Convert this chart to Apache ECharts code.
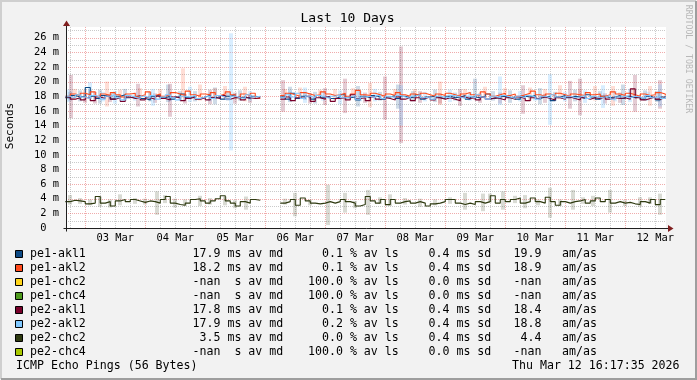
<!DOCTYPE html>
<html><head><meta charset="utf-8">
<script src="https://cdn.jsdelivr.net/npm/echarts@6/dist/echarts.min.js"></script>
<style>html,body{margin:0;padding:0;background:#f2f2f2}#c{width:697px;height:380px}</style>
</head><body><div id="c"></div>
<script>
// ---- time grid (hours since 03 Mar 00:00), 2 h steps ----
const hours = [-8,-6,-4,-2,
0,2,4,6,8,10,12,14,16,18,20,22,
24,26,28,30,32,34,36,38,40,42,44,46,
48,50,52,54,56,58,60,62,64,66,68,70,
72,74,76,78,80,82,84,86,88,90,92,94,
96,98,100,102,104,106,108,110,112,114,116,118,
120,122,124,126,128,130,132,134,136,138,140,142,
144,146,148,150,152,154,156,158,160,162,164,166,
168,170,172,174,176,178,180,182,184,186,188,190,
192,194,196,198,200,202,204,206,208,210,212,214,
216,218,220,222,224,226,228,230,232];

// ---- series values (milliseconds) ----
const pe1_akl1 = [17.8,18.1,17.9,18.0,
19.2,18.0,17.7,18.1,17.9,17.6,18.0,18.2,17.8,17.9,18.1,17.7,
17.5,18.0,18.2,17.8,18.0,17.6,17.9,18.3,17.8,18.0,17.7,17.9,
18.1,17.8,17.9,17.6,18.0,18.2,17.8,17.9,17.7,18.0,17.9,null,
null,null,null,17.9,17.6,18.4,17.7,18.0,17.9,17.6,18.1,17.8,
18.0,17.7,17.9,18.2,17.8,17.9,17.5,18.0,17.8,18.1,17.9,17.6,
17.9,18.1,17.7,18.0,17.8,17.9,18.2,17.6,17.9,18.0,17.8,17.7,
18.0,17.8,17.9,18.1,17.6,17.9,17.8,18.0,18.3,17.7,17.9,18.0,
17.8,17.9,17.6,18.0,17.9,18.1,17.7,17.9,18.0,17.4,17.9,18.1,
17.8,18.0,17.9,17.7,18.2,17.9,17.6,18.0,17.8,17.9,18.1,17.7,
18.0,17.8,17.9,17.6,18.0,17.8,17.5,17.9,18.0];
const pe1_akl2 = [18.0,18.3,18.1,18.4,
18.2,18.6,18.0,18.3,18.1,18.5,18.2,17.9,18.3,18.4,18.0,18.2,
18.6,18.1,18.3,18.0,18.2,18.5,18.3,18.1,18.7,18.2,18.0,18.3,
18.2,18.5,18.1,18.3,18.6,18.2,17.8,18.3,18.1,18.4,17.7,null,
null,null,null,18.1,18.4,18.2,18.0,18.5,18.3,18.1,18.2,18.6,
18.3,18.1,18.2,18.4,18.0,18.3,18.8,18.2,18.1,18.4,18.2,18.0,
18.3,18.1,18.5,18.2,18.0,18.3,18.1,18.4,18.2,18.0,18.3,18.1,
18.4,18.2,18.0,18.3,18.5,18.2,18.1,18.6,18.3,18.0,18.2,18.4,
18.1,18.3,18.0,18.2,18.4,18.7,18.2,18.0,18.3,18.1,18.4,18.2,
18.0,18.3,18.2,18.1,18.5,18.2,18.3,18.0,18.2,18.6,18.3,18.1,
18.4,18.2,18.0,18.3,18.1,18.2,18.5,18.3,18.1];
const pe2_akl1 = [17.9,17.6,17.8,17.5,
17.8,17.4,17.9,17.7,18.0,17.6,17.8,17.3,17.9,17.7,17.8,17.5,
17.8,17.6,18.0,17.7,17.5,17.9,17.8,17.4,17.7,17.9,17.6,17.8,
17.5,17.8,17.7,18.1,17.6,17.8,17.9,17.5,17.8,17.7,17.8,null,
null,null,null,17.6,17.9,17.4,17.8,17.7,18.0,17.3,17.8,17.6,
17.9,17.3,17.7,17.8,17.5,18.2,17.7,17.8,17.4,17.9,17.6,17.8,
17.7,17.5,17.9,17.6,17.8,17.4,17.8,17.7,17.9,17.5,17.8,17.6,
17.8,17.6,17.4,17.9,17.7,17.8,17.5,17.9,17.6,17.8,17.7,17.5,
17.8,17.6,17.9,17.7,17.4,17.8,17.6,17.9,17.7,17.5,17.8,17.6,
17.9,17.7,17.5,17.8,17.6,17.8,17.7,17.9,17.6,17.8,17.7,17.8,
17.6,19.0,17.8,17.5,17.7,17.9,17.6,17.8,17.7];
const pe2_akl2 = [18.0,17.8,18.2,17.9,
17.7,18.1,17.9,17.6,18.0,18.2,17.8,17.5,18.1,17.9,17.7,18.0,
17.8,18.1,17.6,17.9,18.2,17.8,17.5,18.0,17.9,18.1,17.7,17.9,
18.0,17.7,18.1,17.9,17.6,18.0,17.8,17.7,18.2,17.9,18.0,null,
null,null,null,17.8,18.2,17.9,18.4,17.7,18.0,17.8,18.1,17.9,
17.7,18.0,18.2,17.8,17.9,18.1,17.6,17.9,18.0,17.8,18.1,17.7,
18.0,17.8,18.1,17.9,17.7,18.0,18.2,17.8,17.9,17.6,18.0,17.9,
17.8,18.1,17.9,17.7,18.0,17.8,18.2,17.9,17.6,18.0,17.8,18.1,
17.9,17.7,18.0,17.8,18.1,17.9,17.6,18.0,17.8,18.2,17.9,17.7,
18.0,17.8,17.9,18.1,17.7,18.0,17.8,17.9,18.1,17.6,17.9,18.0,
17.8,18.0,17.9,17.7,18.1,17.8,18.0,17.7,17.9];
const pe2_chc2 = [3.6,3.8,3.7,3.6,
3.3,3.4,4.3,3.4,3.6,3.0,3.7,3.9,3.6,3.9,3.7,3.5,
3.7,3.6,3.4,3.9,4.3,3.4,3.2,3.1,3.4,3.9,4.0,3.7,
3.4,3.7,4.0,4.4,3.7,3.4,3.0,3.6,3.4,3.9,3.8,null,
null,null,null,3.4,3.6,3.9,3.1,4.1,3.7,3.4,3.3,3.4,
3.6,3.4,3.6,3.9,3.6,3.4,3.0,3.2,4.3,3.7,3.4,3.9,
3.2,3.9,3.4,3.6,3.7,3.4,3.6,3.4,3.0,3.3,3.4,3.6,
3.9,3.9,3.4,3.2,3.4,3.2,3.6,3.4,3.6,4.4,3.4,3.9,
3.6,3.9,4.1,3.4,3.6,4.1,3.6,3.4,4.2,3.6,3.1,3.6,
3.4,3.6,3.7,3.9,3.4,3.7,4.1,3.6,3.9,3.4,3.6,3.4,
3.5,3.3,3.2,3.6,3.4,3.9,3.2,3.9,3.9];

// ---- min/max spread bars: [hour, low, high] ----
const band_pe1_akl1 = [[-6,17.4,18.6],[-2,17.3,18.8],[2,17.6,18.9],[6,17.0,18.9],[11,17.5,18.5],[16,17.4,19.0],[26,17.3,18.6],[33,17.2,19.6],[38,17.5,18.7],[44,17.3,18.7],[52,16.9,19.2],[57,17.4,18.5],[62,17.4,18.8],[82,17.2,19.3],[88,17.5,18.6],[92,17.0,18.6],[109,16.6,19.4],[118,17.4,18.6],[125,16.3,19.6],[131,17.3,18.7],[140,17.2,18.9],[148,17.4,18.5],[156,17.5,20.4],[163,17.4,18.7],[170,17.1,18.8],[182,16.9,19.1],[188,17.4,18.6],[196,17.3,18.9],[206,17.5,18.7],[215,16.8,19.6],[224,17.4,18.8],[229,17.2,18.7]];
const band_pe1_akl2 = [[-4,17.5,19.0],[0,17.8,18.9],[8.5,16.6,20.0],[14,17.7,18.9],[22,17.6,19.1],[30,17.8,19.0],[39,17.8,21.8],[46,17.4,19.6],[52,17.9,19.1],[56,17.7,19.4],[64,17.3,19.3],[80,17.8,19.0],[86,17.6,19.2],[94,17.7,18.9],[100,17.5,19.0],[107,17.8,19.1],[114,16.5,19.8],[124,17.7,19.0],[132,17.6,19.0],[142,16.8,20.0],[152,17.8,19.0],[160,17.7,19.3],[168,17.8,19.1],[178,17.4,19.2],[184,17.9,19.0],[190,17.6,19.5],[198,17.8,19.0],[204,17.4,19.4],[211,16.7,19.4],[219,17.8,19.1],[226,16.7,19.4]];
const band_pe2_akl1 = [[-5.6,15.0,20.9],[0,17.1,18.4],[4,17.0,18.6],[10,17.2,18.3],[21,16.6,19.7],[28,17.1,18.4],[34,15.2,19.7],[40,17.0,18.3],[50,16.9,18.9],[60,17.0,18.5],[66,17.1,18.2],[79,15.9,20.2],[90,17.0,18.4],[96,16.8,19.1],[104,15.7,20.4],[112,17.1,18.5],[119.7,14.8,20.7],[126.4,11.6,24.8],[134,17.1,18.7],[142,17.0,18.3],[150,16.7,19.0],[158,17.1,18.4],[166,17.0,18.5],[175,15.6,19.5],[184,17.1,18.3],[194,16.3,20.1],[198,15.4,20.4],[208,17.0,18.4],[214,17.1,18.5],[220,15.9,20.9],[230,16.3,20.2]];
const band_pe2_akl2 = [[-7,17.2,18.9],[1.7,17.8,19.9],[7,17.3,18.6],[12,17.0,18.7],[20,17.4,18.5],[27,16.7,19.0],[34,17.3,18.6],[42,17.2,19.3],[50,17.3,18.5],[58.4,10.6,26.6],[66,17.4,18.7],[82,17.3,18.8],[88,17.1,19.2],[95,17.4,18.6],[102,16.9,18.8],[110,17.3,18.7],[116,17.3,19.0],[126.4,14.0,19.5],[136,17.3,18.6],[146,17.2,18.9],[154,17.4,18.6],[166,16.8,20.7],[174,17.3,18.7],[180,17.4,18.6],[186,14.1,21.0],[192,17.3,18.6],[200,17.1,18.8],[207,16.4,19.5],[212,17.3,18.7],[218,17.2,19.0],[225,17.4,18.6],[230,16.6,19.6]];
const band_pe2_chc2 = [[-6,3.2,4.5],[-2,3.3,4.1],[2,3.1,3.9],[6,2.9,4.3],[10,2.8,3.9],[14,3.1,4.6],[20,3.3,4.1],[24,3.2,4.0],[28.5,1.8,5.0],[32,3.4,4.5],[36,2.8,4.0],[40,3.0,3.9],[46,3.0,4.4],[50,3.2,4.1],[56,3.1,4.3],[60,2.7,3.8],[64.4,2.5,4.3],[80,3.2,4.0],[84,1.6,4.8],[90,3.1,3.9],[97,0.4,5.9],[104,2.1,4.8],[108,2.7,3.7],[113,1.8,5.2],[118,3.3,4.2],[122,3.0,4.6],[128,3.2,4.1],[134,2.9,4.0],[140,3.1,3.9],[146,3.3,4.2],[152,2.5,4.8],[159,2.3,4.7],[162,3.5,4.7],[167,2.5,5.0],[172,3.4,4.4],[176,2.7,4.5],[181,3.1,3.9],[186,1.4,5.5],[190,3.0,3.9],[195,2.5,5.2],[199,3.3,4.2],[203,3.0,4.4],[210,2.1,5.2],[216,3.0,3.8],[222,2.9,4.2],[226,3.3,4.2],[230,1.8,4.7]];

// ---- axis / tick labels ----
const xLabelHours = [12,36,60,84,108,132,156,180,204,228];
const xLabels = ['03 Mar','04 Mar','05 Mar','06 Mar','07 Mar','08 Mar','09 Mar','10 Mar','11 Mar','12 Mar'];
const xMajorGrid = [0,24,48,72,96,120,144,168,192,216];
const yMajorGrid = [2,4,6,8,10,12,14,16,18,20,22,24,26];
const yMinorGrid = [1,3,5,7,9,11,13,15,17,19,21,23,25,27];

// ---- legend table ----
const legNames = ['pe1-akl1','pe1-akl2','pe1-chc2','pe1-chc4','pe2-akl1','pe2-akl2','pe2-chc2','pe2-chc4'];
const legColors = ['#0d4a85','#ff4a1c','#ffd51a','#4e9a1e','#78002a','#80c8ff','#2e3a10','#a8c800'];
const legAvg = ['17.9 ms','18.2 ms','-nan  s','-nan  s','17.8 ms','17.9 ms',' 3.5 ms','-nan  s'];
const legLoss = ['  0.1','  0.1','100.0','100.0','  0.1','  0.2','  0.0','100.0'];
const legSd = ['0.4','0.4','0.0','0.0','0.4','0.4','0.4','0.0'];
const legMax = ['19.9','18.9','-nan','-nan','18.4','18.8',' 4.4','-nan'];

const XMIN = -7.707, XMAX = 232.293, YMAX = 27.46;
const FONT = "'DejaVu Sans Mono', monospace";
const xMinorGrid = [];
for (let h = -6; h < XMAX; h += 6) if (h % 24 !== 0) xMinorGrid.push(h);

const GRID_C = 'rgba(150,150,150,0.5)';
const MGRID_C = 'rgba(225,90,90,0.5)';

function vGrid(color) {
  return function (p, api) {
    const x = api.value(0);
    const a = api.coord([x, 0]), b = api.coord([x, YMAX]);
    const px = Math.round(a[0]) + 0.5;
    return {type: 'line', shape: {x1: px, y1: Math.round(a[1]), x2: px, y2: Math.round(b[1])}, style: {stroke: color, lineWidth: 1, lineDash: [1, 1]}};
  };
}
function hGrid(color) {
  return function (p, api) {
    const y = api.value(1);
    const a = api.coord([XMIN, y]), b = api.coord([XMAX, y]);
    const py = Math.round(a[1]) + 0.5;
    return {type: 'line', shape: {x1: Math.round(a[0]), y1: py, x2: Math.round(b[0]), y2: py}, style: {stroke: color, lineWidth: 1, lineDash: [1, 1]}};
  };
}
function bandSeries(data, color) {
  return {
    type: 'custom', z: 1, clip: true, silent: true,
    encode: {x: 0, y: [1, 2]},
    data: data,
    renderItem: function (p, api) {
      const h = api.value(0), lo = api.value(1), hi = api.value(2);
      const a = api.coord([h - 0.8, hi]), b = api.coord([h + 0.8, lo]);
      return {type: 'rect', shape: {x: Math.round(a[0]), y: a[1], width: Math.max(2, Math.round(b[0] - a[0])), height: b[1] - a[1]}, style: {fill: color}};
    }
  };
}
function lineSeries(name, arr, color) {
  return {
    name: name, type: 'line', step: 'end', z: 3, symbol: 'none', connectNulls: false,
    data: hours.map((h, i) => [h, arr[i] === null ? '-' : arr[i]]),
    lineStyle: {color: color, width: 1.1}, itemStyle: {color: color}
  };
}

const graphic = [];
graphic.push({type: 'polyline', shape: {points: [[1, 379], [1, 1], [696, 1]]}, style: {stroke: '#cfcfcf', lineWidth: 2, fill: null}, silent: true});
graphic.push({type: 'polyline', shape: {points: [[1, 379], [696, 379], [696, 1]]}, style: {stroke: '#9e9e9e', lineWidth: 2, fill: null}, silent: true});
graphic.push({type: 'text', x: 347.5, y: 19, style: {text: 'Last 10 Days', fontFamily: FONT, fontSize: 13, fill: '#000', align: 'center', verticalAlign: 'middle'}});
graphic.push({type: 'text', x: 10, y: 126, rotation: Math.PI / 2, style: {text: 'Seconds', fontFamily: FONT, fontSize: 11, fill: '#000', align: 'center', verticalAlign: 'middle'}});
graphic.push({type: 'text', x: 688, y: 59, rotation: -Math.PI / 2, style: {text: 'RRDTOOL / TOBI OETIKER', fontFamily: FONT, fontSize: 8.2, fill: '#b8b8b8', align: 'center', verticalAlign: 'middle'}});
const LF = 11.6;
for (let i = 0; i < legNames.length; i++) {
  const y = 254 + 14 * i;
  graphic.push({type: 'rect', shape: {x: 15.5, y: y - 3.5, width: 7, height: 7}, style: {fill: legColors[i], stroke: '#000', lineWidth: 1}});
  const t = (x, s) => graphic.push({type: 'text', x: x, y: y, style: {text: s, fontFamily: FONT, fontSize: LF, fill: '#000', align: 'left', verticalAlign: 'middle'}});
  t(30, legNames[i]);
  t(192.5, legAvg[i] + ' av md');
  t(308, legLoss[i] + ' % av ls');
  t(428.5, legSd[i] + ' ms sd');
  t(513.5, legMax[i]);
  t(562, 'am/as');
}
graphic.push({type: 'text', x: 16, y: 366, style: {text: 'ICMP Echo Pings (56 Bytes)', fontFamily: FONT, fontSize: LF, fill: '#000', align: 'left', verticalAlign: 'middle'}});
graphic.push({type: 'text', x: 512, y: 366, style: {text: 'Thu Mar 12 16:17:35 2026', fontFamily: FONT, fontSize: LF, fill: '#000', align: 'left', verticalAlign: 'middle'}});

const option = {
  animation: false,
  backgroundColor: '#f2f2f2',
  grid: {left: 66, top: 27, width: 600, height: 201, show: true, backgroundColor: '#ffffff', borderWidth: 0, containLabel: false},
  xAxis: {type: 'value', min: XMIN, max: XMAX, axisLine: {show: false}, axisTick: {show: false}, axisLabel: {show: false}, splitLine: {show: false}},
  yAxis: {type: 'value', min: 0, max: YMAX, interval: 2,
    axisLine: {show: false}, axisTick: {show: false}, splitLine: {show: false},
    axisLabel: {margin: 7, fontFamily: FONT, fontSize: 10.4, color: '#000',
      formatter: v => (v === 0 ? '0  ' : (v % 2 === 0 && v <= 26 ? v + ' m' : ''))}},
  graphic: graphic,
  series: [
    {type: 'custom', z: 0, silent: true, encode: {x: 0, y: 1}, data: xMinorGrid.map(h => [h, 0]), renderItem: vGrid(GRID_C)},
    {type: 'custom', z: 0, silent: true, encode: {x: 0, y: 1}, data: yMinorGrid.map(v => [XMIN, v]), renderItem: hGrid(GRID_C)},
    {type: 'custom', z: 0, silent: true, encode: {x: 0, y: 1}, data: xMajorGrid.map(h => [h, 0]), renderItem: vGrid(MGRID_C)},
    {type: 'custom', z: 0, silent: true, encode: {x: 0, y: 1}, data: yMajorGrid.map(v => [XMIN, v]), renderItem: hGrid(MGRID_C)},
    bandSeries(band_pe2_chc2, 'rgba(46,58,16,0.18)'),
    bandSeries(band_pe1_akl1, 'rgba(13,74,133,0.2)'),
    bandSeries(band_pe1_akl2, 'rgba(255,74,28,0.18)'),
    bandSeries(band_pe2_akl1, 'rgba(120,0,42,0.2)'),
    bandSeries(band_pe2_akl2, 'rgba(128,200,255,0.3)'),
    lineSeries('pe1-akl1', pe1_akl1, '#0d4a85'),
    lineSeries('pe1-akl2', pe1_akl2, '#ff4a1c'),
    lineSeries('pe2-akl1', pe2_akl1, '#78002a'),
    lineSeries('pe2-akl2', pe2_akl2, '#80c8ff'),
    lineSeries('pe2-chc2', pe2_chc2, '#2e3a10'),
    {type: 'custom', z: 5, silent: true, clip: false, encode: {x: 0, y: 1}, data: [[XMIN, 0]],
      renderItem: function (p, api) {
        const o = api.coord([XMIN, 0]), xe = api.coord([XMAX, 0]), ye = api.coord([XMIN, YMAX]);
        const ox = Math.round(o[0]) + 0.5, oy = Math.round(o[1]) + 0.5;
        const ex = Math.round(xe[0]), ty = Math.round(ye[1]);
        return {type: 'group', children: [
          {type: 'line', shape: {x1: ox - 3, y1: oy, x2: ex + 3, y2: oy}, style: {stroke: '#1f1f1f', lineWidth: 1}},
          {type: 'line', shape: {x1: ox, y1: oy + 3, x2: ox, y2: ty - 2}, style: {stroke: '#1f1f1f', lineWidth: 1}},
          {type: 'polygon', shape: {points: [[ex + 2, oy - 3.5], [ex + 7.5, oy], [ex + 2, oy + 3.5]]}, style: {fill: '#801f1f'}},
          {type: 'polygon', shape: {points: [[ox - 3.5, ty - 1], [ox, ty - 6.5], [ox + 3.5, ty - 1]]}, style: {fill: '#801f1f'}}
        ]};
      }},
    {type: 'custom', z: 5, silent: true, clip: false, encode: {x: 0, y: 1}, data: xLabelHours.map(h => [h, 0]),
      renderItem: function (p, api) {
        const c = api.coord([api.value(0), 0]);
        return {type: 'text', x: c[0], y: c[1] + 10, style: {text: xLabels[p.dataIndex], fontFamily: FONT, fontSize: 10.4, fill: '#000', align: 'center', verticalAlign: 'middle'}};
      }}
  ]
};
const chart = echarts.init(document.getElementById('c'), null, {renderer: 'canvas', width: 697, height: 380});
chart.setOption(option);
</script></body></html>
